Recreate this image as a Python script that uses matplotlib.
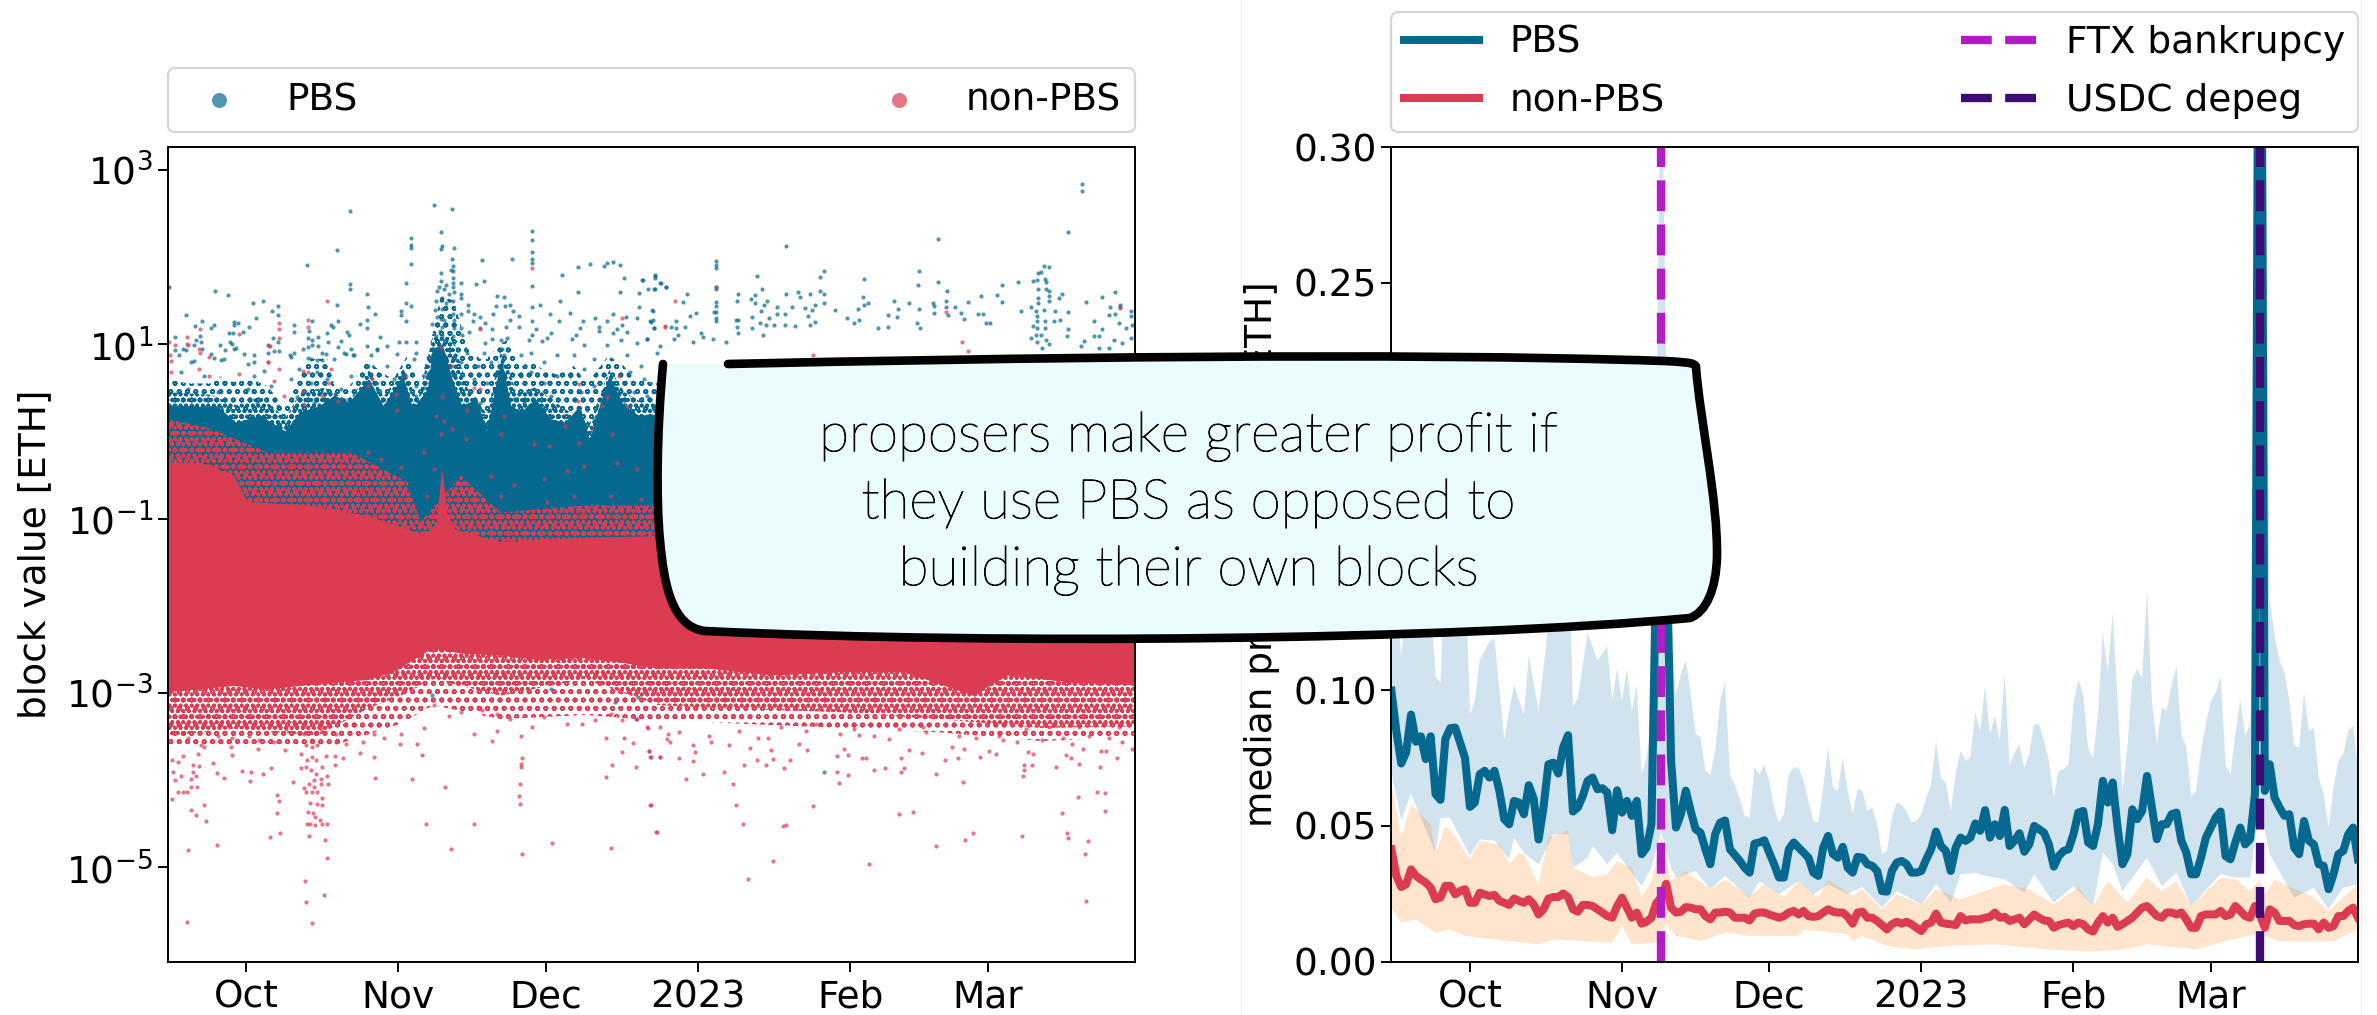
import numpy as np
import matplotlib
matplotlib.use("Agg")
import matplotlib.pyplot as plt
import matplotlib.dates as mdates
import matplotlib.patheffects as pe
from matplotlib.lines import Line2D
from matplotlib.path import Path
from matplotlib.patches import PathPatch
from matplotlib.ticker import FixedLocator, NullLocator
from matplotlib.transforms import IdentityTransform

# ---------- data ----------
start_date = np.datetime64("2022-09-15")
end_date = np.datetime64("2023-03-31")
tick_dates = ["2022-10-01", "2022-11-01", "2022-12-01", "2023-01-01", "2023-02-01", "2023-03-01"]
tick_labels = ["Oct", "Nov", "Dec", "2023", "Feb", "Mar"]
ftx_date = "2022-11-09"
usdc_date = "2023-03-11"

# daily median profit, one value per day from start_date
pbs_median = [
 .0998,.085,.073,.077,.091,.081,.083,.0746,.083,.0617,
 .0596,.082,.086,.0862,.0807,.075,.057,.0586,.069,.0703,
 .0678,.0703,.063,.0525,.0506,.0592,.0586,.0543,.065,.060,
 .045,.0568,.0727,.0733,.0693,.0789,.0834,.0553,.0568,.061,
 .0666,.0678,.0635,.0639,.0623,.0484,.0631,.0549,.0592,.0537,
 .0592,.0396,.042,.0506,.15,.20,.16,.074,.0494,.0543,
 .063,.0555,.0488,.0475,.0414,.0359,.047,.0512,.052,.0414,
 .0393,.0371,.0346,.0328,.0435,.0439,.0447,.0402,.0359,.031,
 .031,.0414,.0439,.042,.0402,.0383,.0328,.0316,.042,.0463,
 .0396,.0383,.0423,.0346,.0328,.0386,.0383,.0359,.0353,.0334,
 .026,.0258,.0334,.0365,.0371,.0359,.0328,.0328,.0334,.0377,
 .0414,.0479,.0426,.0408,.0334,.042,.0457,.0445,.0457,.0509,
 .0482,.0558,.0457,.0506,.0463,.0559,.0426,.0445,.0473,.0405,
 .0432,.05,.0488,.0475,.0432,.035,.0389,.0408,.0414,.0469,
 .0549,.0555,.0439,.0426,.0506,.0666,.0586,.066,.0494,.0359,
 .0396,.0561,.0525,.0555,.0684,.0568,.0451,.0506,.0506,.0543,
 .0549,.0445,.0402,.0322,.0322,.0383,.0457,.0494,.0531,.0553,
 .0389,.0377,.0439,.0494,.0432,.0451,.0617,.50,.0629,.0727,
 .0604,.0568,.0537,.0543,.042,.0396,.0518,.0445,.0432,.0359,
 .0353,.0267,.0322,.0396,.0408,.0469,.0494,.0377]
nonpbs_median = [
 .0414,.0316,.0275,.0285,.034,.0316,.0303,.0291,.0273,.023,
 .0236,.0279,.0279,.0248,.026,.0267,.0217,.0217,.0254,.0248,
 .0242,.0246,.0224,.0217,.0209,.0233,.0224,.0217,.023,.0211,
 .0174,.0193,.0232,.0238,.0238,.0251,.0238,.0193,.0184,.0209,
 .0209,.0205,.0193,.0181,.0168,.0162,.0205,.0236,.0199,.0162,
 .0181,.014,.0147,.0162,.0217,.0236,.0287,.0199,.0181,.0184,
 .0201,.0199,.0193,.0193,.0168,.0156,.0181,.0181,.0184,.0181,
 .0162,.0162,.0162,.0152,.0177,.0181,.0181,.0174,.0168,.0162,
 .0168,.0181,.0187,.0174,.0187,.0168,.0165,.0168,.0181,.0193,
 .0184,.0181,.0181,.0165,.014,.0181,.0184,.0162,.0162,.015,
 .0135,.0119,.0138,.0147,.014,.0147,.0138,.0125,.0113,.0138,
 .0144,.0177,.0144,.014,.0138,.0135,.0168,.0152,.0156,.0156,
 .0156,.0162,.0165,.0181,.0162,.0165,.015,.0156,.0162,.0138,
 .0156,.0174,.0162,.0152,.015,.0125,.0135,.014,.0144,.0131,
 .0144,.0138,.0119,.0111,.0144,.0168,.0144,.0162,.0128,.0138,
 .015,.0162,.0181,.0199,.0205,.0187,.0168,.0162,.0181,.0181,
 .0174,.0181,.0156,.0125,.0125,.0168,.0174,.0174,.0174,.0187,
 .0168,.0174,.0205,.0187,.0168,.0162,.0205,.0174,.0125,.0193,
 .0181,.015,.015,.015,.0135,.0131,.0138,.014,.014,.0119,
 .0144,.0125,.0131,.0168,.0168,.0187,.0199,.0162]

# percentile bands: (day since start_date, value)
pbs_band_upper = [
 (0,.16),(2,.112),(4,.15),(7,.16),(9,.105),(10,.103),(11,.15),(14,.17),(15,.15),(16,.091),(17,.096),(18,.111),(20,.118),(21,.119),
 (23,.082),(25,.102),(27,.091),(28,.113),(30,.092),(31,.108),(33,.14),(36,.16),(37,.094),(38,.097),(40,.121),(42,.111),(44,.116),
 (45,.096),(46,.108),(47,.096),(48,.108),(49,.092),(50,.102),(51,.069),(52,.075),(53,.09),(54,.2),(55,.35),(56,.22),(57,.121),(58,.0985),
 (59,.106),(60,.111),(61,.0985),(62,.084),(63,.0826),(64,.0703),(65,.069),(66,.0776),(67,.096),(68,.103),(69,.069),(70,.065),(71,.06),
 (72,.0537),(73,.053),(74,.0715),(75,.069),(76,.0727),(77,.0666),(78,.0568),(79,.0512),(80,.0543),(81,.069),(82,.0715),(83,.0715),
 (84,.0666),(85,.0592),(86,.0518),(87,.0512),(88,.0641),(89,.0789),(90,.0641),(91,.0629),(92,.0752),(93,.0629),(94,.0543),(95,.0635),
 (96,.0629),(97,.0555),(98,.0568),(99,.0506),(100,.0396),(101,.0408),(102,.0531),(103,.0586),(104,.0577),(105,.0555),(106,.0512),
 (107,.0518),(108,.0543),(109,.0604),(110,.0654),(111,.0813),(112,.0678),(113,.066),(114,.0555),(115,.069),(116,.0776),(117,.074),
 (118,.0752),(119,.0918),(120,.085),(121,.1016),(122,.0838),(123,.0905),(124,.0813),(125,.1059),(126,.0721),(127,.077),(128,.0801),
 (129,.0715),(130,.0764),(131,.0875),(132,.0875),(133,.0813),(134,.074),(135,.0604),(136,.0703),(137,.0709),(138,.0727),(139,.0948),
 (140,.104),(141,.0985),(142,.0789),(143,.0752),(144,.0912),(145,.1213),(146,.1065),(147,.1286),(148,.0961),(149,.0629),(150,.0789),
 (151,.104),(152,.1077),(153,.1047),(154,.1366),(155,.0961),(156,.0801),(157,.0936),(158,.0924),(159,.1016),(160,.109),(161,.0838),
 (162,.0789),(163,.0611),(164,.0629),(165,.0776),(166,.0875),(167,.0961),(168,.0991),(169,.1053),(170,.0727),(171,.069),(172,.0838),
 (173,.0967),(174,.0832),(175,.0875),(176,.13),(177,.5),(178,.35),(179,.133),(180,.1206),(181,.1108),(182,.1065),(183,.0961),(184,.0795),
 (185,.0789),(186,.0991),(187,.085),(188,.0862),(189,.0678),(190,.0617),(191,.0494),(192,.0641),(193,.074),(194,.0764),(195,.085),
 (196,.0869),(197,.0715)]
pbs_band_lower = [
 (0,.07),(2,.052),(4,.062),(9,.04),(10,.053),(12,.053),(16,.039),(18,.045),(21,.0447),(24,.0377),(25,.0457),(27,.04),(30,.0359),(33,.047),
 (36,.047),(37,.0346),(40,.0383),(41,.0426),(44,.0359),(46,.04),(51,.0279),(53,.0346),(55,.048),(57,.0346),(58,.031),(62,.0334),(65,.0267),
 (68,.0316),(73,.0236),(75,.0297),(79,.0248),(83,.0297),(86,.0248),(89,.0285),(93,.0248),(94,.026),(96,.0275),(100,.0199),(103,.026),
 (108,.0211),(111,.0285),(114,.0217),(116,.0322),(119,.0328),(121,.0316),(125,.0303),(129,.0254),(131,.0322),(135,.0217),(139,.0279),
 (143,.0205),(145,.0402),(147,.0359),(149,.026),(154,.0383),(157,.0279),(160,.0328),(163,.0205),(169,.0322),(172,.031),(175,.031),
 (177,.0568),(179,.0396),(184,.0236),(188,.0273),(191,.0193),(194,.0273),(197,.0285)]
nonpbs_band_upper = [
 (0,.0654),(2,.0457),(4,.058),(8,.0506),(9,.0402),(11,.05),(13,.0463),(16,.0377),(18,.0445),(22,.0432),(24,.0359),(26,.0402),(27,.0396),
 (30,.0285),(32,.0457),(36,.0482),(37,.0346),(41,.031),(44,.0322),(46,.0371),(49,.0346),(51,.0236),(53,.0297),(55,.0469),(57,.0297),
 (60,.0334),(65,.0267),(68,.0303),(73,.0242),(76,.0285),(80,.0236),(83,.0297),(87,.0236),(89,.0303),(94,.0242),(96,.0267),(100,.0193),
 (103,.0248),(108,.0211),(111,.0267),(116,.023),(125,.0285),(130,.0266),(135,.0211),(140,.0273),(143,.0205),(146,.0297),(150,.0217),
 (154,.031),(157,.026),(160,.0297),(163,.0205),(169,.031),(172,.0303),(175,.026),(177,.0303),(178,.0248),(180,.0303),(188,.0236),
 (191,.0187),(197,.0285)]
nonpbs_band_lower = [
 (0,.0199),(2,.0144),(5,.0156),(9,.0107),(12,.0119),(15,.0095),(21,.0082),(30,.0064),(33,.0082),(39,.0076),(45,.007),(47,.0131),(49,.0064),
 (54,.007),(56,.0138),(58,.0095),(63,.0076),(68,.0107),(73,.0095),(83,.0095),(84,.0119),(93,.0101),(94,.0076),(96,.0095),(101,.0058),
 (107,.0045),(113,.0058),(123,.0064),(134,.0045),(143,.0037),(149,.0045),(154,.0064),(164,.0045),(170,.0076),(176,.0101),(179,.0089),
 (181,.0076),(192,.0076),(197,.0119)]

# block value: dense clouds as (day, log10 ETH) outlines
pbs_cloud_top = [
 (0,.3),(8,.28),(10,.29),(14,.1),(19,.18),(24,0),(27,.22),(31,.29),(34,.41),(37,.33),(41,.6),(44,.29),(48,.64),(50,.26),(53,.48),(54,.94),
 (56,1.0),(58,.6),(60,.29),(63,.37),(65,0),(68,.83),(70,.29),(72,.22),(75,.37),(78,.14),(81,.1),(84,.29),(86,-.09),(88,.29),(90,.64),
 (93,.29),(96,.18),(102,.2),(197,.2)]
pbs_mid_top = [
 (0,.45),(8.8,.42),(14,.3),(19,.4),(24,.15),(27,.45),(32,.5),(37,.35),(41,.7),(44,.4),(48,.72),(51,.35),(54,1.1),(58,1.1),(61,.5),(65,.2),
 (68,.95),(71,.45),(75,.5),(81,.25),(86,.1),(90,.72),(93,.45),(96,.35),(102,.3),(197,.3)]
pbs_fringe_top = [
 (0,.6),(4,.55),(8.8,.55),(10,.64),(13.6,.56),(17,.6),(20.3,.52),(23.7,.29),(27,.675),(29,.83),(32.5,.83),(34,.52),(36.6,.48),(40.7,.83),
 (43.4,.675),(46,.6),(48.8,.87),(51.5,.56),(53.5,1.0),(55.6,1.55),(58.3,1.5),(61,.95),(64.4,.8),(67.8,1.0),(69,1.05),(72,.75),(74,.8),
 (76.6,.7),(79.3,.65),(82.7,.75),(85.4,.55),(89.5,.85),(92.2,.8),(95,.6),(99.7,.55),(102,.5),(197,.5)]
pbs_cloud_bottom_log = -1.3
nonpbs_cloud_top = [
 (0,-.36),(6.8,-.36),(13.6,-.51),(16.3,-.81),(28.5,-.85),(40.7,-.97),(48.8,-1.12),(52.2,-1.2),(54.8,-1.05),(55.9,-.43),(57,-.95),(58.3,-1.12),
 (67.8,-1.27),(85,-1.22),(100,-1.2),(197,-1.2)]
nonpbs_mid_top = [
 (0,.14),(8.8,.03),(20.3,-.24),(37.3,-.24),(48.8,-.58),(51.5,-1.04),(59.7,-.51),(67.8,-.93),(84.7,-.85),(100,-.85),(197,-.85)]
nonpbs_cloud_bottom = [
 (0,-2.99),(13.6,-2.92),(20,-2.96),(34,-2.88),(41,-2.85),(46,-2.76),(54,-2.49),(60,-2.55),(68,-2.57),(75,-2.62),(85,-2.6),(92,-2.65),
 (100,-2.72),(110,-2.72),(123,-2.8),(137,-2.76),(150,-2.76),(164,-3.03),(171,-2.8),(184,-2.88),(197,-2.91)]
nonpbs_mid_bottom = [
 (0,-3.49),(13.6,-3.41),(30.5,-3.49),(40.7,-3.18),(47.5,-3.03),(54.2,-2.84),(67.8,-3.03),(84.7,-2.84),(100,-3.14),(116,-3.18),(137,-3.22),
 (157,-3.3),(178,-3.4),(197,-3.38)]
nonpbs_fringe_bottom = [
 (0,-3.6),(34,-3.6),(47.5,-3.35),(54,-3.14),(68,-3.3),(85,-3.25),(96,-3.3),(116,-3.35),(137,-3.4),(157,-3.45),(178,-3.55),(197,-3.5)]

# block value: individual visible blocks (day, log10 ETH)
pbs_points = [
 (.3,1.65),(9.6,1.61),(12.3,1.56),(17.4,1.47),(19.4,1.49),(22.4,1.435),(21.2,1.38),(22.5,1.33),(3.7,1.33),(7.1,1.27),(5.6,1.21),(8.8,1.19),
 (9.4,1.225),(18,1.3),(13.6,1.25),(14.4,1.245),(13.6,1.22),(16.5,1.2),(12.5,1.13),(13.4,1.13),(15.3,1.14),(6.6,1.09),(1.5,1.08),(5.8,1.05),
 (12.7,1.03),(13.2,1.0),(6.8,1.02),(5.4,.99),(10.6,.99),(3.7,.93),(1.5,.93),(2.4,.87),(7.1,.94),(11.7,.93),(13.9,.96),(15.5,.89),(9.4,.84),
 (10.8,.82),(4.7,.8),(17.6,.87),(17.6,.80),(21.5,1.07),(20.5,.985),(20.5,.9),(21.6,.92),(22.7,.92),(22.5,1.02),(25.8,1.22),(25.8,1.14),
 (24.9,.87),(25.8,.9),(27.5,.94),(28.3,1.91),(29.3,1.27),(28.8,1.15),(28.6,1.07),(29.5,1.05),(30.6,1.08),(28.5,.97),(29.3,.99),(30.6,.98),
 (28.5,.84),(30.5,.82),(31.5,.82),(32.2,.89),(32.7,1.03),(32.5,1.13),(33.2,1.225),(33.7,1.2),(34.7,1.27),(34.4,1.45),(34.4,2.08),(37.2,2.53),
 (37.2,1.69),(37.2,1.63),(36.6,1.14),(36.9,1.11),(35.4,1.04),(34.6,.97),(37.3,.94),(36.3,.89),(37.8,.87),(39.2,1.23),(40.5,1.28),(40.5,1.18),
 (40.5,1.58),(40.7,1.42),(42.2,1.35),(40.5,.98),(42.7,.93),(43.3,1.08),(44.7,.98),(41.4,.88),(47.1,1.02),(47.5,1.38),(47.6,1.33),(48.5,1.27),
 (48.6,1.7),(48.5,1.47),(49.5,1.44),(49.5,2.22),(49.5,2.14),(49.5,2.1),(49.5,1.92),(50.5,1.03),(48.5,1.03),(50.5,.9),(54.2,2.59),(58,2.55),
 (55.6,2.29),(55.8,2.12),(55.6,2.09),(58.3,2.1),(58,1.98),(58.1,1.9),(58.1,1.84),(57.6,1.855),(58.2,1.76),(58.2,1.7),(55.7,1.82),(55.6,1.72),
 (59.7,1.7),(58.2,1.65),(56.6,1.68),(55.3,1.66),(54.8,1.61),(56.3,1.63),(57.3,1.57),(58.3,1.6),(59.7,1.57),(54.6,1.49),(55.9,1.53),(58.2,1.49),
 (56.6,1.47),(59.7,1.53),(55.9,1.4),(54.4,1.39),(58.2,1.34),(59.7,1.34),(61.2,1.45),(61.2,1.38),(62.4,1.34),(63.6,1.31),(62.2,1.27),(54.8,1.31),
 (55.6,1.29),(56.3,1.28),(53.9,1.23),(54.9,1.23),(55.9,1.2),(55.5,1.15),(54.6,1.09),(55.9,1.09),(58.3,1.28),(58.3,1.19),(58.2,1.09),(59.7,1.19),
 (60,1.11),(61.4,1.14),(64.1,1.97),(64.5,1.72),(62.8,1.69),(70.1,1.98),(74.2,2.3),(74.2,2.19),(74.2,2.06),(74.2,1.98),(74.2,1.93),(74.2,1.67),
 (75.8,1.45),(74.2,1.42),(74.2,1.26),(67.1,1.55),(68.5,1.54),(66.9,1.44),(68.6,1.44),(69.8,1.45),(70.4,1.38),(71.5,1.32),(66.2,1.35),(69.8,1.28),
 (64.7,1.24),(63.6,1.19),(66.1,1.17),(68.9,1.2),(71.5,1.2),(75.1,1.17),(77.8,1.34),(79.7,1.26),(79.9,1.5),(80.4,1.79),(81.9,1.36),(83.6,1.6),
 (83.6,1.88),(86,1.92),(88.9,1.9),(89.4,1.93),(90.6,1.94),(92.2,1.91),(92.9,1.76),(92.2,1.6),(96.6,1.74),(99.2,1.79),(99.2,1.76),(100.3,1.7),
 (101.4,1.65),(96,1.59),(97.8,1.63),(99.1,1.63),(95.9,1.42),(98.7,1.39),(95.6,1.3),(93.4,1.31),(90.6,1.35),(87,1.3),(89.4,1.26),(84.6,1.26),
 (83.9,1.18),(87.9,1.2),(91.5,1.17),(92.5,1.22),(98.3,1.26),(99,1.18),(90.7,1.13),(93.6,1.14),(83.1,1.11),(82.4,1.06),(78,1.13),(77.3,1.07),
 (76.3,1.04),(73.6,1.05),(74.2,1.11),(69.2,1.07),(67.8,1.05),(66.1,1.06),(64.7,1.01),(87.8,1.15),(84.7,.995),(89.4,.995),(92.3,1.05),(95.6,1.01),
 (97.6,1.06),(100.3,.98),
 (186.2,2.84),(186.2,2.76),(183.4,2.29),(156.8,2.21),(125.9,2.13),(111.6,1.95),(111.6,1.91),(111.6,1.87),(119.9,1.78),(99.3,1.78),(96.7,1.74),
 (100.5,1.7),(101.5,1.65),(99.2,1.63),(133.6,1.84),(132.9,1.77),(141.7,1.75),(153,1.84),(152.8,1.68),(156.8,1.71),(169.9,1.68),(173.1,1.71),
 (178.5,1.9),(179.4,1.89),(177.8,1.83),(177.3,1.81),(176.1,1.72),(177,1.73),(178.7,1.75),(178.8,1.71),(178.9,1.63),(179.4,1.61),(177.3,1.63),
 (177.2,1.53),(179.4,1.55),(179.4,1.49),(177.2,1.47),(175.8,1.43),(176.8,1.38),(178.5,1.39),(177.1,1.32),(177.1,1.26),(178.7,1.26),(176.1,1.21),
 (177.1,1.19),(178.7,1.19),(176.8,1.11),(177.8,1.11),(175.8,1.07),(177.1,1.03),(178.8,1.05),(178.1,.96),(179.5,1),(173.7,1.38),(180.6,1.38),
 (182,1.57),(181.4,1.53),(183.4,1.37),(181.7,1.28),(180.5,1.26),(183.4,1.17),(183.2,1.09),(186.9,1.48),(190.3,1.54),(192.9,1.6),(191.9,1.42),
 (193.9,1.45),(193.9,1.42),(191.6,1.33),(192.9,1.34),(196.1,1.38),(196.1,1.32),(188.6,1.26),(193.7,1.24),(190.3,1.17),(195.2,1.19),(196.4,1.22),
 (189.7,1.09),(188.6,1.09),(192.7,1.05),(196.1,1.07),(186.6,1.04),(185.9,.98),(189.7,.96),(191.7,.95),(194.4,1.01),(165.6,1.55),(168.8,1.56),
 (169.9,1.48),(162.9,1.48),(166.1,1.35),(164.9,1.35),(166.6,1.24),(167.4,1.24),(162.2,1.29),(161.6,1.36),(160.4,1.43),(158.6,1.61),(158.5,1.5),
 (158.5,1.43),(158.8,1.33),(155.8,1.47),(156.1,1.44),(156,1.36),(152.9,1.4),(150.9,1.47),(147.8,1.5),(148.8,1.4),(146.7,1.33),(148.5,1.31),
 (152.6,1.24),(153.2,1.19),(144.6,1.19),(146.7,1.2),(141.5,1.54),(142.5,1.47),(141.7,1.45),(140.6,1.4),(140.8,1.28),(139.8,1.24),(138.3,1.3),
 (135.9,1.39),(133.6,1.47),(133.6,1.58),(132.9,1.61),(130.7,1.58),(128.8,1.54),(128.4,1.6),(127.2,1.43),(129.7,1.41),(131.2,1.39),(125.9,1.57),
 (125.7,1.35),(130.3,1.32),(131.9,1.45),(131.8,1.25),(125.7,1.22),(127.8,1.21),(130.7,1.22),(121,1.63),(119.5,1.56),(118.7,1.52),(122.1,1.5),
 (119.6,1.47),(121.5,1.45),(124,1.42),(116.1,1.58),(116,1.49),(120.8,1.38),(124,1.34),(118.9,1.31),(122.4,1.3),(115.7,1.28),(116.2,1.28),
 (120.6,1.24),(123.4,1.22),(115.9,1.2),(118.9,1.18),(121.9,1.22),(116.1,1.13),(121.3,1.11),(111.6,1.66),(111.6,1.63),(111.6,1.48),(111.6,1.44),
 (111.2,1.37),(111.6,1.37),(111.6,1.3),(111.6,1.27),(107.5,1.36),(105.7,1.58),(104.9,1.48),(106.3,1.32),(98.8,1.38),(98.8,1.28),(98.5,1.25),
 (99,1.18),(103.5,1.26),(102.5,1.2),(103.5,1.18),(105.4,1.2),(108.6,1.13),(109,1.08),(103.9,1.11),(103.2,1.06),(97.6,1.06),(106.9,1.03),
 (111,1.06),(113.6,1.03),
 (3.1,.94),(5.4,.81),(8.8,.89),(2.7,.675),(7.5,.64),(4.1,.48),(10.2,.45),(13.6,.94),(11.5,.83),(16.3,.77),(17.6,.64),(13.6,.56),(16.3,.48),
 (19.7,.69),(21,.52),(18.3,.33),(22.4,.29),(25.1,.85),(26.8,.71),(25.1,.6),(29.2,.83),(31.5,.9),(30.5,.675),(29.2,.56),(26.4,.39),(29.8,.33),
 (33.9,.83),(35.9,.9),(38,.87),(32.5,.6),(35.3,.48),(37.3,.64),(40.7,.75),(42.7,.94),(44.7,.75),(46.8,.89),(42.7,.56),(46.1,.6),(50.2,.83),
 (52.2,.64),(50.5,.52),(52.2,.5),(50.5,.41),(61,.9),(59.7,.79),(63.1,.75),(64.4,.9),(59.7,.56),(62.4,.6),(65.1,.56),(65.8,.79),(63.7,.33),
 (62.4,.18),(65.1,.1),(71.9,.87),(73.9,.9),(71.9,.64),(73.9,.675),(76.6,.79),(79.3,.87),(76.6,.56),(79.3,.64),(78,.41),(74.6,.48),(82.7,.87),
 (84.7,.71),(82,.64),(86.8,.83),(84.1,.45),(86.8,.52),(85.4,.25),(86.8,.14),(90.2,.83),(93.6,.87),(96.3,.75),(99.7,.9),(94.2,.675),(96.9,.6),
 (94.9,.45),(97.6,.41),(99,.29),(92.9,.56),(68.1,.94),(68.5,.87),(68.1,.77),(67.1,.675),(69.2,.675),(67.8,.56),(69.8,.56),(66.8,.41),(70.5,.37),
 (72.5,.33),
 (133.7,-3.9),(95.4,-3.3),(91,-3.1),(95.7,-3.04),(78,-2.95),(53.8,-3.02)]
nonpbs_points = [
 (0,1.65),(32.5,1.5),(28.6,1.28),(28.6,1.2),(22.6,1.24),(22.6,1.17),(22.6,1.07),(6.6,1.17),(3.9,1.08),(4.1,.995),(1.5,.985),(.3,1.03),(14.6,1.12),
 (6.6,.9),(.5,.87),(20.9,.98),(20.5,.8),(8.5,.85),(55.6,.965),(74.2,1.87),(63.6,1.17),(92.5,1.3),(101.2,1.21),(103.4,1.5),(101.3,1.2),(111.6,1.66),
 (158.5,1.37),(193.9,1.41),(161.7,1.02),(162.9,.92),(131.5,.88),
 (.7,.81),(.7,.675),(3.9,1),(6.4,.94),(6.4,.71),(8.5,.64),(20.5,.8),(22.6,.72),(28.6,.675),(27.5,.69),(21.7,.58),(14.6,.66),(32.9,.56),(33.2,.71),
 (27.5,.46),(31.5,.41),(23.7,.41),(20.7,.98),(27.8,.31),(34.6,.35),(40.7,.52),(46.4,.43),(46.8,.24),(48.5,.64),(41.7,.6),(55.9,.39),(54.6,.18),
 (56.3,.12),(58,.75),(63.7,.49),(62.4,.5),(61,.24),(58,.03),(55.6,-.03),(60.7,-.09),(67.8,-.03),(68.5,.18),(74.6,-.15),(77.6,-.17),(83.7,.54),
 (83.5,.35),(81,.06),(86.4,.01),(89.4,.39),(91.9,.64),(88.5,.29),(90.5,-.03),(93.6,.29),(83.7,-.13),(40.7,-.24),(43.4,-.32),(47.5,-.41),(54.2,-.43),
 (59.7,-.6),(65.8,-.51),(70.5,-.62),(76.6,-.55),(81.4,-.45),(84.7,-.4),(91.5,-.36),(95.6,-.43),(67.8,-.74),(77.3,-.81),(82.7,-.74),(90.2,-.74),
 (96.3,-.78),(52.2,-.24),(52.9,-.74),
 (4,-5.63),(29.4,-5.64),(28.1,-5.39),(31.8,-5.32),(27.9,-5.16),(32.4,-4.89),(4.1,-4.8),(10,-4.74),(28.8,-4.64),(32.1,-4.68),(20.9,-4.65),(22.8,-4.6),
 (7.9,-4.47),(5.7,-4.4),(4.8,-4.34),(7.5,-4.28),(22.3,-4.38),(22.6,-4.24),(22.2,-4.17),(.9,-4.22),(2.2,-4.14),(3.2,-4.14),(3.9,-4.13),(4.7,-4.08),
 (6,-4.08),(1.6,-4),(5.8,-3.95),(2.8,-3.95),(4.8,-3.98),(1.2,-3.9),(5.1,-3.9),(10,-3.92),(11.5,-3.97),(15.1,-3.89),(16.9,-3.91),(16.7,-4.01),
 (19.5,-3.93),(21.1,-3.86),(25.5,-4.02),(5.1,-3.83),(6.3,-3.84),(9.3,-3.8),(.8,-3.77),(2.2,-3.79),(3.1,-3.72),(6.1,-3.7),(13.2,-3.71),(24,-3.65),
 (6.8,-3.6),(12.9,-3.62),(18.4,-3.64),(28.1,-3.59),(29.5,-3.54),(30.5,-3.6),(29.5,-3.62),(27.1,-3.7),(29.5,-3.73),(32.2,-3.72),(28.3,-3.77),
 (30.2,-3.77),(28.1,-3.85),(27.1,-3.86),(31.5,-3.85),(29.2,-3.88),(30.2,-3.93),(32.4,-3.95),(31.3,-3.98),(29.8,-4),(28.8,-4.04),(32.7,-4.04),
 (31.2,-4.04),(27.7,-4.09),(29.8,-4.08),(28.1,-4.14),(29.5,-4.14),(30.5,-4.13),(31.5,-4.2),(29,-4.26),(30.5,-4.27),(31.5,-4.28),(28.5,-4.36),
 (29.6,-4.37),(30,-4.42),(28.3,-4.5),(29,-4.5),(30,-4.51),(31,-4.46),(31.4,-4.5),(32.5,-4.5),(34.2,-3.56),(34.1,-3.72),(34.1,-3.82),(35.7,-3.75),
 (39.2,-3.69),(42,-3.73),(42.3,-3.97),(49.8,-3.98),(51.8,-3.71),(50.8,-3.58),(47.3,-3.58),(56.5,-4.08),(52.7,-4.5),(62.4,-4.5),(57.7,-4.79),
 (72.2,-4.85),(78.3,-4.72),(90.2,-4.78),(99.5,-4.59),(98.3,-4.28),(71.7,-4.27),(71.5,-4.18),(71.8,-4.04),(71.9,-3.85),(71.9,-3.81),(72.2,-3.75),
 (71.9,-3.49),(66.1,-3.55),(62.4,-3.47),(67.1,-3.43),(89.2,-3.51),(89.2,-3.96),(90.4,-3.82),(95.4,-3.85),(92.6,-3.68),(92.9,-3.52),(94.8,-3.57),
 (98,-3.66),(98.3,-3.73),(100.2,-3.73),(101.6,-3.53),
 (4.1,-3.52),(7.5,-3.62),(10.2,-3.49),(13.2,-3.52),(16.6,-3.49),(18.6,-3.54),(21.7,-3.56),(24.1,-3.41),(27.8,-3.47),(31.2,-3.41),(34.2,-3.47),
 (36.3,-3.58),(39.7,-3.56),(42,-3.47),(44.1,-3.52),(47.5,-3.47),(52.2,-3.4),(54.2,-3.14),(57.3,-3.26),(59.7,-3.22),(64.1,-3.2),(67.1,-3.24),
 (69.8,-3.3),(74.2,-3.39),(76.6,-3.28),(81.4,-3.35),(84.4,-3.35),(87.1,-3.31),(90.2,-3.24),(92.5,-3.31),(95.6,-3.3),(97.6,-3.39),(100.3,-3.39),
 (187,-5.38),(118.2,-5.13),(142.9,-4.96),(123.2,-4.93),(186.7,-4.84),(156.4,-4.75),(187.4,-4.7),(162.4,-4.68),(164,-4.61),(173.9,-4.64),(183.1,-4.6),
 (183.3,-4.66),(99.6,-4.59),(117.1,-4.5),(125.2,-4.52),(126,-4.51),(149,-4.39),(151.8,-4.36),(182,-4.38),(190.9,-4.35),(98.4,-4.28),(115.7,-4.28),
 (131.3,-4.3),(185.3,-4.19),(189.3,-4.13),(190.8,-4.15),(115.2,-4.04),(136.6,-4.03),(162,-4.02),(105.6,-3.99),(109.1,-3.93),(113.3,-3.91),
 (136.2,-3.9),(138.6,-3.94),(149.3,-3.91),(156.4,-3.93),(174.2,-3.95),(174.3,-3.88),(174.3,-3.82),(176,-3.82),(180.8,-3.85),(189.9,-3.85),
 (143.8,-3.88),(146.1,-3.86),(150,-3.86),(125.5,-3.86),(121.9,-3.83),(117.3,-3.82),(126.8,-3.77),(123.2,-3.76),(120,-3.77),(107,-3.78),(158.3,-3.77),
 (161,-3.75),(165.5,-3.73),(167.2,-3.67),(168.7,-3.7),(175.1,-3.68),(176.2,-3.7),(183,-3.71),(184,-3.75),(185.5,-3.81),(193.2,-3.75),(196.3,-3.64),
 (98.4,-3.73),(100.3,-3.73),(104.2,-3.74),(98.1,-3.66),(107.3,-3.68),(118.5,-3.63),(122.9,-3.65),(130.2,-3.65),(136.2,-3.72),(138.5,-3.71),
 (141.3,-3.75),(142.2,-3.75),(137.8,-3.64),(149.3,-3.75),(151,-3.65),(153.5,-3.69),(159.7,-3.62),(162.2,-3.64),(186.3,-3.64),(190,-3.66),(191,-3.66),
 (114.3,-3.59),(110.7,-3.56),(102.2,-3.56),(107,-3.6),(128.6,-3.58),(120.3,-3.52),(122.2,-3.52),(140.8,-3.48),(143.9,-3.49),(146.9,-3.53),(154.4,-3.45),
 (170,-3.54),(173,-3.56),(178.1,-3.54),(182.2,-3.51),(184.2,-3.58),(187.6,-3.49),(191.7,-3.52),(194.4,-3.56),(97.8,-3.4),(101.9,-3.47),(104.2,-3.45),
 (110.3,-3.49),(116.4,-3.43),(124.9,-3.39),(130,-3.43),(132,-3.36),(136.8,-3.47),(139.8,-3.41),(144.9,-3.37),(149,-3.41),(153.7,-3.39),(161.2,-3.49),
 (164.6,-3.52),(169.3,-3.49),(174.7,-3.41),(179.5,-3.39),(185.6,-3.39),(193.7,-3.39)]

callout_lines = "proposers make greater profit if\nthey use PBS as opposed to\nbuilding their own blocks"

# ---------- style ----------
PBS_C = "#05698F"
NON_C = "#DB3C52"
FTX_C = "#B21BC6"
USDC_C = "#3E0A73"
W, H = 2377, 1015
FS = 27
plt.rcParams.update({"font.size": FS, "axes.linewidth": 1.4, "xtick.major.width": 1.4, "ytick.major.width": 1.4,
                     "xtick.major.size": 7, "ytick.major.size": 7, "patch.linewidth": 1.6, "hatch.linewidth": 1.2})

fig = plt.figure(figsize=(W / 100, H / 100), dpi=100)
axL = fig.add_axes([167.6 / W, (H - 961.7) / H, 967.6 / W, 814.7 / H])
axR = fig.add_axes([1391.4 / W, (H - 961.7) / H, 966.6 / W, 814.7 / H])


def num(days):
    """days since start_date -> matplotlib date number"""
    return mdates.date2num(start_date) + np.asarray(days, dtype=float)


def split(pairs):
    a = np.array(pairs, dtype=float)
    return a[:, 0], a[:, 1]


def cloud(ax, top, bottom, color, z, hatch=None):
    xt, yt = split(top)
    xb, yb = split(bottom)
    x = np.r_[num(xt), num(xb)[::-1]]
    y = np.r_[10 ** yt, 10 ** yb[::-1]]
    if hatch:
        ax.fill(x, y, facecolor="none", edgecolor=color, hatch=hatch, lw=0, zorder=z)
    else:
        ax.fill(x, y, color=color, lw=0, zorder=z)


# ---------- left panel ----------
flat_bottom = [(0, pbs_cloud_bottom_log), (197, pbs_cloud_bottom_log)]
cloud(axL, pbs_fringe_top, flat_bottom, PBS_C, 1, "oo")
cloud(axL, pbs_mid_top, flat_bottom, PBS_C, 1.05, "ooo")
cloud(axL, pbs_cloud_top, flat_bottom, PBS_C, 1.1)
d, v = split(pbs_points)
axL.scatter(num(d), 10 ** v, s=9, color=PBS_C, alpha=0.7, lw=0, zorder=1.2, label="PBS")
cloud(axL, nonpbs_mid_top, nonpbs_fringe_bottom, NON_C, 2, "oo")
cloud(axL, nonpbs_mid_top, nonpbs_mid_bottom, NON_C, 2.05, "ooo")
cloud(axL, nonpbs_cloud_top, nonpbs_cloud_bottom, NON_C, 2.1)
d, v = split(nonpbs_points)
axL.scatter(num(d), 10 ** v, s=9, color=NON_C, alpha=0.7, lw=0, zorder=2.2, label="non-PBS")
axL.set_yscale("log")
axL.set_ylim(10 ** -6.08, 10 ** 3.26)
axL.yaxis.set_major_locator(FixedLocator([1e-5, 1e-3, 1e-1, 1e1, 1e3]))
axL.yaxis.set_minor_locator(NullLocator())
axL.set_ylabel("block value [ETH]", fontsize=FS, va="center")
axL.yaxis.set_label_coords(-0.137, 0.5)
axL.legend(bbox_to_anchor=(0, 1.0184, 1, 0.1), loc="lower left", mode="expand", ncol=2, markerscale=3.6,
           borderaxespad=0, borderpad=0.37, fontsize=FS)

# ---------- right panel ----------
x_up, y_up = split(pbs_band_upper)
x_lo, y_lo = split(pbs_band_lower)
axR.fill(np.r_[num(x_up), num(x_lo)[::-1]], np.r_[y_up, y_lo[::-1]], color="tab:blue", alpha=0.2, lw=0)
x_up, y_up = split(nonpbs_band_upper)
x_lo, y_lo = split(nonpbs_band_lower)
axR.fill(np.r_[num(x_up), num(x_lo)[::-1]], np.r_[y_up, y_lo[::-1]], color="tab:orange", alpha=0.2, lw=0)
axR.plot(num(np.arange(len(pbs_median))), pbs_median, color=PBS_C, lw=5.8, label="PBS")
axR.plot(num(np.arange(len(nonpbs_median))), nonpbs_median, color=NON_C, lw=5.8, label="non-PBS")
axR.axvline(mdates.date2num(np.datetime64(ftx_date)), color=FTX_C, lw=6, ls="--", label="FTX bankrupcy")
axR.axvline(mdates.date2num(np.datetime64(usdc_date)), color=USDC_C, lw=6, ls="--", label="USDC depeg")
axR.set_ylim(0, 0.30)
axR.set_yticks([0, .05, .10, .15, .20, .25, .30])
axR.set_yticklabels(["0.00", "0.05", "0.10", "0.15", "0.20", "0.25", "0.30"])
axR.set_ylabel("median proposer profit [ETH]", fontsize=FS, va="center")
axR.yaxis.set_label_coords(-0.134, 0.5)
axR.legend(bbox_to_anchor=(0, 1.0184, 1, 0.1), loc="lower left", mode="expand", ncol=2, borderaxespad=0, borderpad=0.34,
           labelspacing=0.6, fontsize=FS)

for ax in (axL, axR):
    ax.set_xlim(mdates.date2num(start_date), mdates.date2num(end_date))
    ax.set_xticks(mdates.date2num(np.array(tick_dates, dtype="datetime64[D]")))
    ax.set_xticklabels(tick_labels)
    ax.tick_params(labelsize=FS)
    ax.tick_params(axis="x", pad=6)

# ---------- faint panel separators ----------
for xp in (1241, 2361):
    fig.add_artist(Line2D([xp, xp], [0, H], transform=IdentityTransform(), color="#EFEFEF", lw=1, zorder=0))

# ---------- hand-drawn callout, in figure pixels ----------
def px(x, y):
    return (x, H - y)

verts = [px(663, 364),
         px(657, 430), px(656, 500), px(660, 540),
         px(664, 585), px(672, 627), px(705, 631),
         px(1000, 645), px(1450, 640), px(1690, 618),
         px(1706, 612), px(1716, 590), px(1717, 557),
         px(1718, 500), px(1700, 420), px(1696, 367),
         px(1696, 362), px(1680, 362), px(1664, 361),
         px(1400, 352), px(1000, 358), px(728, 364)]
codes = [Path.MOVETO] + [Path.CURVE4] * 21
fig.add_artist(PathPatch(Path(verts + [px(663, 364)], codes + [Path.LINETO]), facecolor="#EBFCFF", edgecolor="none",
                         transform=IdentityTransform(), zorder=5))
fig.add_artist(PathPatch(Path(verts, codes), facecolor="none", edgecolor="black", lw=6.2, capstyle="round",
                         joinstyle="round", transform=IdentityTransform(), zorder=6))
fig.text(1188.6 / W, (H - 503) / H, callout_lines, ha="center", va="center", family="Lato", fontweight="light",
         fontsize=39.5, linespacing=1.39, color="black", zorder=7,
         path_effects=[pe.withStroke(linewidth=0.7, foreground="black")])

fig.savefig("out.png", dpi=100)
